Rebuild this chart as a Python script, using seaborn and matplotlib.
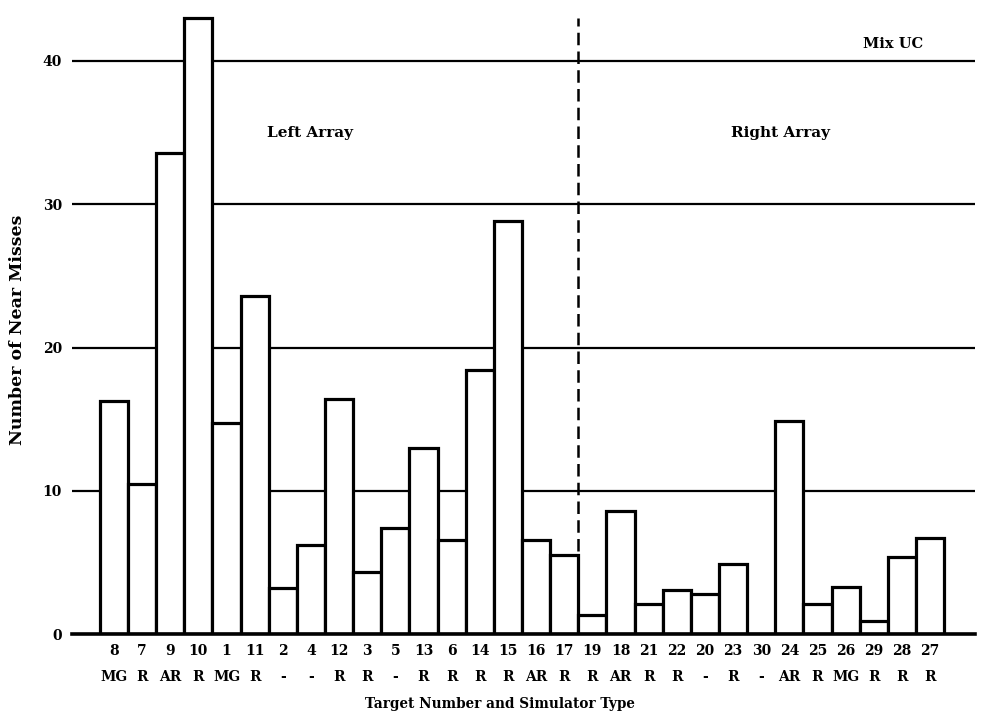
import numpy as np
import pandas as pd
import matplotlib
matplotlib.use('Agg')
import matplotlib.pyplot as plt
import matplotlib.transforms as mtransforms
import seaborn as sns

# Target numbers in plotted order, simulator type and near-miss counts
targets = ['8', '7', '9', '10', '1', '11', '2', '4', '12', '3', '5', '13', '6', '14', '15',
           '16', '17', '19', '18', '21', '22', '20', '23', '30', '24', '25', '26', '29', '28', '27']
sim_types = ['MG', 'R', 'AR', 'R', 'MG', 'R', '-', '-', 'R', 'R', '-', 'R', 'R', 'R', 'R',
             'AR', 'R', 'R', 'AR', 'R', 'R', '-', 'R', '-', 'AR', 'R', 'MG', 'R', 'R', 'R']
near_misses = [16.3, 10.5, 33.6, 43.0, 14.7, 23.6, 3.2, 6.2, 16.4, 4.3, 7.4, 13.0, 6.6, 18.4, 28.8,
               6.6, 5.5, 1.3, 8.6, 2.1, 3.1, 2.8, 4.9, 0.0, 14.9, 2.1, 3.3, 0.9, 5.4, 6.7]
grid_levels = [10, 20, 30, 40]

df = pd.DataFrame({'target': targets, 'type': sim_types, 'misses': near_misses})

sns.set_style('white')
plt.rcParams['font.family'] = ['DejaVu Serif']
plt.rcParams['font.weight'] = 'bold'
for key in ['text.color', 'axes.labelcolor', 'xtick.color', 'ytick.color']:
    plt.rcParams[key] = 'black'

fig = plt.figure(figsize=(9.83, 7.23), dpi=100)
ax = fig.add_axes([0.073, 0.123, 0.919, 0.872])

# horizontal reference lines, drawn behind the white bars
for lvl in grid_levels:
    ax.axhline(lvl, color='black', lw=1.6, zorder=0.5)

sns.barplot(data=df, x='target', y='misses', order=targets, color='white',
            edgecolor='black', linewidth=2.3, width=1.0, saturation=1, ax=ax)

ax.set_xlim(-1.5, 30.6)
ax.set_ylim(0, 44)
ax.set_yticks([0] + grid_levels)
ax.tick_params(axis='y', length=0, pad=7, labelsize=10)
ax.tick_params(axis='x', length=0, pad=7, labelsize=10)

for side in ['left', 'top', 'right']:
    ax.spines[side].set_visible(False)
ax.spines['bottom'].set_linewidth(2.6)
ax.spines['bottom'].set_color('black')

# second row of x labels: simulator type
trans = mtransforms.blended_transform_factory(ax.transData, ax.transAxes)
for i, t in enumerate(sim_types):
    ax.text(i, -0.068, t, transform=trans, ha='center', va='center',
            fontsize=10, fontweight='bold')

ax.set_xlabel('Target Number and Simulator Type', fontsize=9.8, fontweight='bold')
ax.xaxis.label.set_va('center')
ax.xaxis.set_label_coords(0.474, -0.111)
ax.set_ylabel('Number of Near Misses', fontsize=12.5, fontweight='bold')
ax.yaxis.label.set_va('center')
ax.yaxis.set_label_coords(-0.06, 0.482)

# dashed divider between left and right arrays
ax.vlines(16.5, 5.8, 43.0, colors='black', lw=1.8, linestyles=(0, (5, 2.5)))

ax.text(6.95, 35.0, 'Left Array', ha='center', va='center', fontsize=11, fontweight='bold')
ax.text(23.7, 35.0, 'Right Array', ha='center', va='center', fontsize=11, fontweight='bold')
ax.text(27.7, 41.2, 'Mix UC', ha='center', va='center', fontsize=10.5, fontweight='bold')

fig.savefig('out.png', dpi=100)
